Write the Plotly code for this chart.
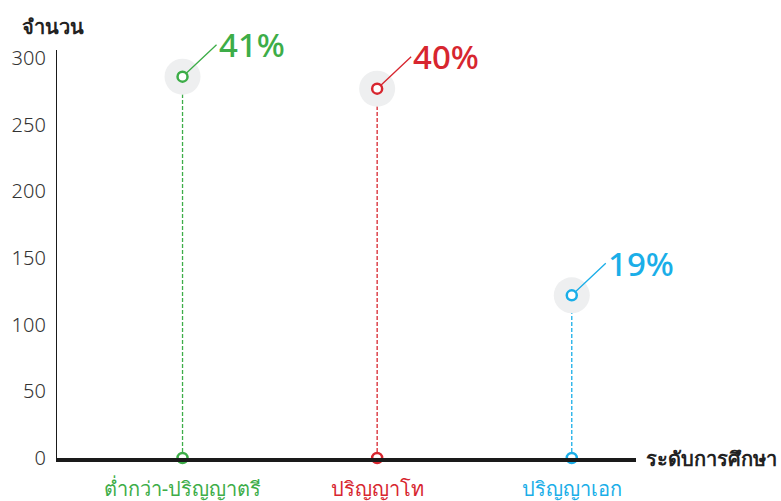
import plotly.graph_objects as go

categories = ["ต่ำกว่า-ปริญญาตรี", "ปริญญาโท", "ปริญญาเอก"]
values = [286, 277, 122]
pct_labels = ["41%", "40%", "19%"]
colors = ["#3dad48", "#d7262f", "#1aaee8"]
y_ticks = [0, 50, 100, 150, 200, 250, 300]

xs = list(range(len(categories)))
FONT = "Noto Sans, DejaVu Sans, sans-serif"

fig = go.Figure()

# dashed stems
for i, (v, c) in enumerate(zip(values, colors)):
    fig.add_trace(go.Scatter(x=[xs[i], xs[i]], y=[0, v], mode="lines",
                             line=dict(color=c, width=1.3, dash="4px,2px"),
                             hoverinfo="skip", showlegend=False, cliponaxis=False))

# halos
fig.add_trace(go.Scatter(x=xs, y=values, mode="markers",
                         marker=dict(size=36, color="#eeeff0"),
                         hoverinfo="skip", showlegend=False, cliponaxis=False))
# top markers
fig.add_trace(go.Scatter(x=xs, y=values, mode="markers",
                         marker=dict(size=10, color="white", line=dict(color=colors, width=2.5)),
                         showlegend=False, cliponaxis=False))
# bottom markers
fig.add_trace(go.Scatter(x=xs, y=[0] * len(xs), mode="markers",
                         marker=dict(size=10, color="white", line=dict(color=colors, width=2.5)),
                         showlegend=False, cliponaxis=False))

for i, (v, c, p) in enumerate(zip(values, colors, pct_labels)):
    fig.add_annotation(x=xs[i], y=v, text=p, showarrow=True, arrowhead=0,
                       arrowcolor=c, arrowwidth=1.3, ax=34, ay=-32,
                       xanchor="left", yanchor="middle", standoff=4,
                       font=dict(size=33, color=c, family=FONT, weight=500))

tick_text = [f"<span style='color:{c}'>{t}</span>" for t, c in zip(categories, colors)]

fig.update_layout(
    width=781, height=501,
    margin=dict(l=57, r=145, t=50, b=43, autoexpand=False),
    paper_bgcolor="white", plot_bgcolor="white",
    font=dict(family=FONT, color="#333333"),
    xaxis=dict(range=[-0.645, 2.33], tickvals=xs, ticktext=tick_text, automargin=False,
               showgrid=False, zeroline=False, showline=True, linecolor="#1a1a1a",
               linewidth=4, ticks="", tickfont=dict(size=20), ticklabelstandoff=10),
    yaxis=dict(range=[0, 306], tickvals=y_ticks, showgrid=False, zeroline=False,
               automargin=False,
               showline=True, linecolor="#1a1a1a", linewidth=1.3, ticks="",
               tickfont=dict(size=20, color="#333333", weight=300), ticklabelstandoff=6),
    annotations=list(fig.layout.annotations) + [
        dict(text="<b>จำนวน</b>", xref="paper", yref="paper", x=-0.007, y=1.0,
             xanchor="center", yanchor="bottom", yshift=8, showarrow=False,
             font=dict(size=20, color="#222222", family=FONT)),
        dict(text="<b>ระดับการศึกษา</b>", xref="paper", yref="y", x=1.0, y=0,
             xanchor="left", yanchor="middle", xshift=8, showarrow=False,
             font=dict(size=20, color="#222222", family=FONT)),
    ],
)

fig.write_html("out.html")
